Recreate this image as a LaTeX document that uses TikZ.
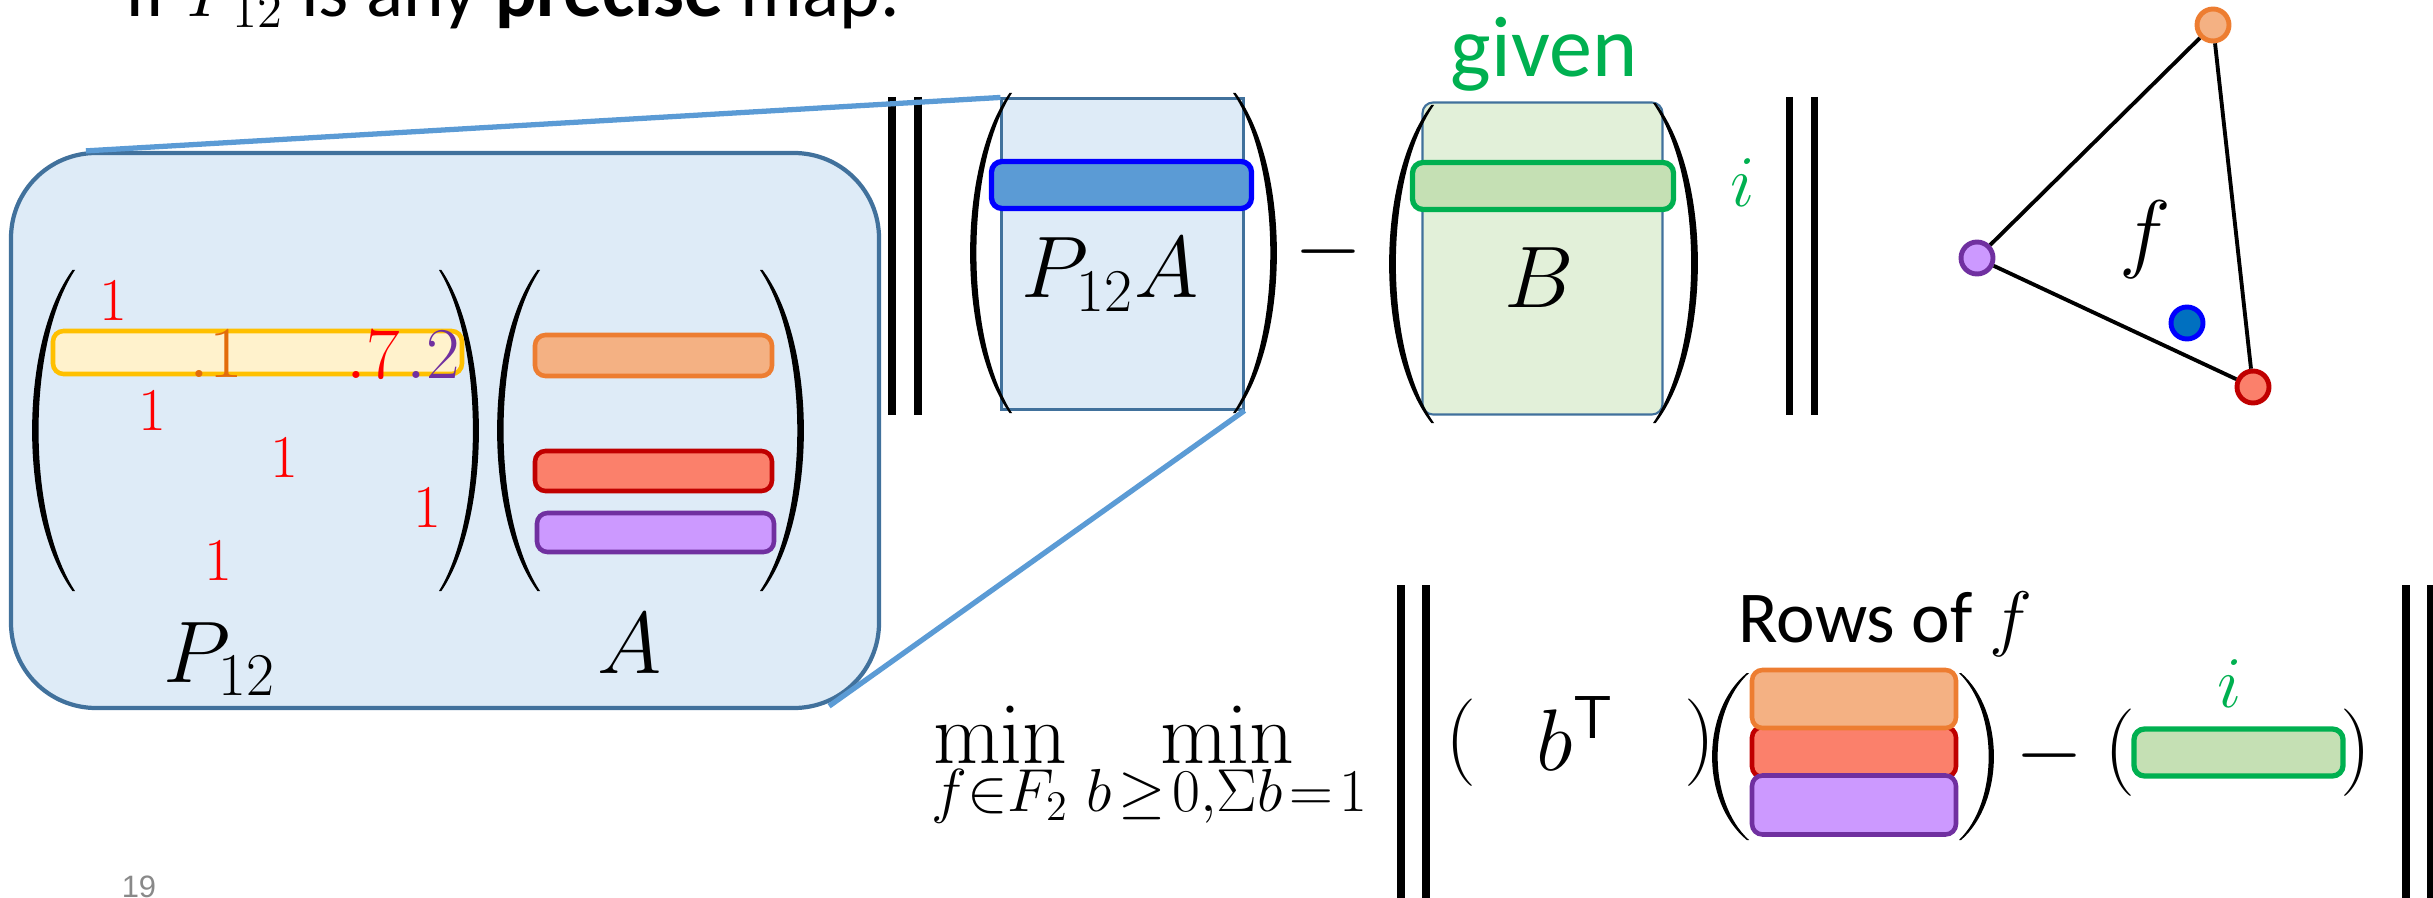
\documentclass[tikz,border=0pt]{standalone}
\usepackage[no-math]{fontspec}
\setmainfont{Carlito}
\newfontfamily\numfont{Liberation Sans}
\usetikzlibrary{calc}
\definecolor{ppblue}{HTML}{DEEBF7}
\definecolor{ppsteel}{HTML}{41719C}
\definecolor{ppzoom}{HTML}{5B9BD5}
\definecolor{ppyellowL}{HTML}{FFF2CC}
\definecolor{ppyellow}{HTML}{FFC000}
\definecolor{pporangeL}{HTML}{F4B183}
\definecolor{pporange}{HTML}{ED7D31}
\definecolor{pprust}{HTML}{E36C0A}
\definecolor{ppredL}{HTML}{FB806B}
\definecolor{ppred}{HTML}{C00000}
\definecolor{pppurpleL}{HTML}{CC99FF}
\definecolor{pppurple}{HTML}{7030A0}
\definecolor{ppgreenL}{HTML}{E2F0D9}
\definecolor{ppgreenM}{HTML}{C5E0B4}
\definecolor{ppgreen}{HTML}{00B050}
\definecolor{ppdot}{HTML}{0070C0}
\definecolor{ppgray}{HTML}{898989}

\begin{document}
\begin{tikzpicture}[
    lbl/.style={inner sep=0pt, anchor=base},
    mth/.style={lbl, font=\fontsize{23.5}{28}\selectfont},
    one/.style={lbl, text=red, font=\fontsize{17.5}{20}\selectfont},
    frac/.style={lbl, font=\fontsize{20}{23}\selectfont},
    rowbar/.style 2 args={draw=#1, fill=#2, line width=1.3pt, rounded corners=3pt, inner sep=0pt},
    col/.style={draw=ppsteel, line width=0.6pt, inner sep=0pt},
    vtx/.style 2 args={circle, draw=#1, fill=#2, line width=1.4pt, minimum size=0.32cm, inner sep=0pt},
    normbar/.style={line width=2pt},
    zoomline/.style={ppzoom, line width=1.5pt},
    lpar/.pic={\fill (0.94,0) .. controls (-0.31,-0.23) and (-0.31,-0.77) .. (0.94,-1)
      -- (1,-1) .. controls (-0.13,-0.77) and (-0.13,-0.23) .. (1,0) -- cycle;}]
  \useasboundingbox (0,0) rectangle (24.33,-8.98);

  % title, cut by the top edge
  \node[lbl, anchor=base west, font=\fontsize{22}{26}\selectfont] (title) at (1.25,-0.17)
    {If $P_{12}$ is any \textbf{precise} map.};

  % zoomed product P12 A
  \node[draw=ppsteel, fill=ppblue, line width=1.2pt, rounded corners=0.85cm,
        minimum width=8.68cm, minimum height=5.55cm, inner sep=0pt] (lbox) at (4.45,-4.305) {};
  \pic[xscale=0.43, yscale=3.21] at (0.32,-2.70) {lpar};
  \pic[xscale=-0.40, yscale=3.21] at (4.79,-2.70) {lpar};
  \pic[xscale=0.43, yscale=3.21] at (4.97,-2.70) {lpar};
  \pic[xscale=-0.44, yscale=3.21] at (8.04,-2.70) {lpar};
  \node[rowbar={ppyellow}{ppyellowL}, minimum width=4.09cm, minimum height=0.43cm] (hrow) at (2.575,-3.525) {};
  \node[one] (r1) at (1.13,-3.21) {$1$};
  \node[frac, text=pprust] (r2a) at (2.16,-3.77) {$.1$};
  \node[frac, text=red] (r2b) at (3.73,-3.79) {$.7$};
  \node[frac, text=pppurple] (r2c) at (4.335,-3.79) {$.2$};
  \node[one] (r3) at (1.52,-4.30) {$1$};
  \node[one] (r4) at (2.84,-4.77) {$1$};
  \node[one] (r5) at (4.27,-5.27) {$1$};
  \node[one] (r6) at (2.18,-5.80) {$1$};
  \node[rowbar={pporange}{pporangeL}, minimum width=2.37cm, minimum height=0.41cm] (a1) at (6.535,-3.555) {};
  \node[rowbar={ppred}{ppredL}, minimum width=2.37cm, minimum height=0.40cm] (a2) at (6.535,-4.71) {};
  \node[rowbar={pppurple}{pppurpleL}, minimum width=2.37cm, minimum height=0.39cm] (a3) at (6.555,-5.325) {};
  \node[mth] (lp) at (2.20,-6.82) {$P_{12}$};
  \node[mth] (la) at (6.30,-6.73) {$A$};

  % || P12 A - B ||_i
  \draw[normbar] (8.92,-0.97) -- (8.92,-4.15);
  \draw[normbar] (9.18,-0.97) -- (9.18,-4.15);
  \node[col, fill=ppblue, minimum width=2.42cm, minimum height=3.11cm] (pcol) at (11.225,-2.54) {};
  \pic[xscale=0.42, yscale=3.20] at (9.70,-0.93) {lpar};
  \pic[xscale=-0.44, yscale=3.20] at (12.77,-0.93) {lpar};
  \node[rowbar={blue}{ppzoom}, line width=1.5pt, minimum width=2.60cm, minimum height=0.47cm] (prow) at (11.215,-1.85) {};
  \node[mth] (lpa) at (11.10,-2.98) {$P_{12}A$};
  \node[mth] (minus1) at (13.28,-2.73) {$-$};
  \node[col, fill=ppgreenL, rounded corners=3pt, minimum width=2.40cm, minimum height=3.12cm] (bcol) at (15.425,-2.585) {};
  \pic[xscale=0.45, yscale=3.18] at (13.89,-1.05) {lpar};
  \pic[xscale=-0.45, yscale=3.20] at (16.98,-1.03) {lpar};
  \node[rowbar={ppgreen}{ppgreenM}, line width=1.5pt, minimum width=2.61cm, minimum height=0.47cm] (brow) at (15.43,-1.86) {};
  \node[mth] (lb) at (15.39,-3.08) {$B$};
  \node[lbl, text=ppgreen, font=\fontsize{24.5}{29}\selectfont] (given) at (15.44,-0.77) {given};
  \node[lbl, text=ppgreen, font=\fontsize{22}{26}\selectfont] (ib) at (17.43,-2.07) {$i$};
  \draw[normbar] (17.89,-0.97) -- (17.89,-4.15);
  \draw[normbar] (18.14,-0.97) -- (18.14,-4.15);

  \draw[zoomline] ($(lbox.north west)+(0.77,0)$) -- (pcol.north west);
  \draw[zoomline] ($(lbox.south east)+(-0.52,0.04)$) -- (pcol.south east);

  % simplex of f
  \node[vtx={pporange}{pporangeL}] (vo) at (22.13,-0.25) {};
  \node[vtx={pppurple}{pppurpleL}] (vp) at (19.77,-2.58) {};
  \node[vtx={ppred}{ppredL}] (vr) at (22.53,-3.87) {};
  \draw[line width=1.1pt] (vo) -- (vp) -- (vr) -- (vo);
  \node[vtx={blue}{ppdot}] (vb) at (21.87,-3.23) {};
  \node[lbl, font=\fontsize{30}{34}\selectfont] (lf) at (21.45,-2.62) {$f$};

  % min min || (b^T)(rows) - (row i) ||
  \node[mth] (min1) at (10.00,-7.63) {$\min\limits_{f{\in}F_2}$};
  \node[mth] (min2) at (12.27,-7.63) {$\min\limits_{b\mkern2mu{\geq}\mkern2mu0,\Sigma b\mkern2mu{=}\mkern2mu1}$};
  \draw[normbar, line width=2.3pt] (14.01,-5.85) -- (14.01,-8.98);
  \draw[normbar, line width=2.3pt] (14.26,-5.85) -- (14.26,-8.98);
  \node[mth] (pl1) at (14.61,-7.64) {$($};
  \node[mth, anchor=base west] (bt) at (15.36,-7.70) {$b^{\mathsf{T}}$};
  \node[mth] (pr1) at (17.00,-7.64) {$)$};
  \node[rowbar={ppred}{ppredL}, minimum width=2.04cm, minimum height=0.50cm] (f2) at (18.54,-7.52) {};
  \node[rowbar={pporange}{pporangeL}, minimum width=2.04cm, minimum height=0.58cm] (f1) at (18.54,-6.99) {};
  \node[rowbar={pppurple}{pppurpleL}, minimum width=2.04cm, minimum height=0.59cm] (f3) at (18.54,-8.05) {};
  \pic[xscale=0.37, yscale=1.67] at (17.12,-6.73) {lpar};
  \pic[xscale=-0.35, yscale=1.67] at (19.94,-6.73) {lpar};
  \node[lbl, anchor=base west, font=\fontsize{20.8}{25}\selectfont] (rows) at (17.38,-6.42) {Rows of $f$};
  \node[mth] (minus2) at (20.49,-7.77) {$-$};
  \node[mth] (pl2) at (21.20,-7.74) {$($};
  \node[rowbar={ppgreen}{ppgreenM}, line width=1.5pt, minimum width=2.09cm, minimum height=0.47cm] (irow) at (22.385,-7.525) {};
  \node[mth] (pr2) at (23.56,-7.74) {$)$};
  \node[lbl, text=ppgreen, font=\fontsize{22}{26}\selectfont] (ii) at (22.30,-7.07) {$i$};
  \draw[normbar, line width=2.3pt] (24.06,-5.85) -- (24.06,-8.98);
  \draw[normbar, line width=2.3pt] (24.31,-5.85) -- (24.31,-8.98);

  \node[lbl, text=ppgray, font=\numfont\fontsize{8.8}{10}\selectfont] (pg) at (1.39,-8.97) {19};
\end{tikzpicture}
\end{document}
